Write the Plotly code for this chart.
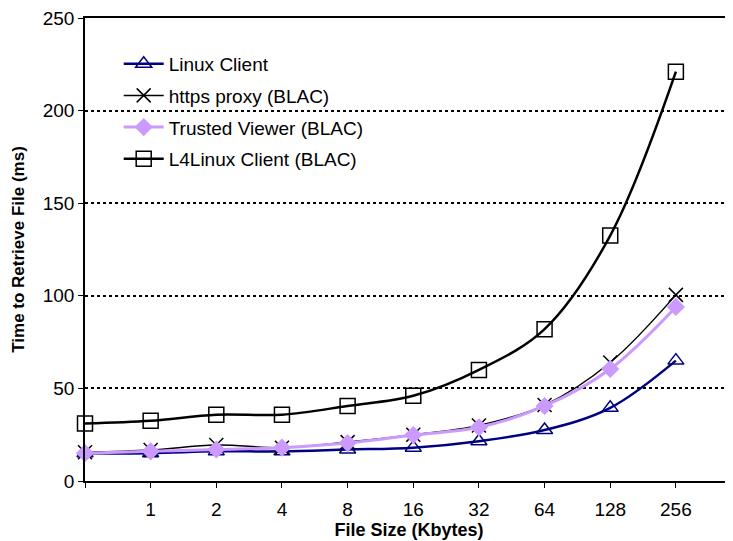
import plotly.graph_objects as go

categories = ["", "1", "2", "4", "8", "16", "32", "64", "128", "256"]
linux_client = [15, 15, 16, 16, 17, 18, 21.5, 27.5, 39.5, 65]
https_proxy = [15.5, 16.7, 19.4, 18, 21, 25, 30, 41, 64, 100.5]
trusted_viewer = [15, 16, 17, 18, 20.5, 24.8, 29, 40.5, 60.5, 94]
l4linux_client = [31, 32.5, 35.8, 35.8, 40.5, 46, 60, 82, 132.5, 221]

xs = list(range(len(categories)))
font = "Liberation Sans, Arial, sans-serif"

fig = go.Figure()
fig.add_trace(go.Scatter(x=xs, y=linux_client, name="Linux Client", mode="lines+markers",
                         legendgroup="a",
                         line=dict(color="#000080", width=2.5, shape="spline"),
                         marker=dict(symbol="triangle-up-open", size=14, color="#000080", line=dict(width=1.5)),
                         cliponaxis=False))
fig.add_trace(go.Scatter(x=xs, y=https_proxy, name="https proxy (BLAC)", mode="lines+markers",
                         legendgroup="b",
                         line=dict(color="black", width=1.5, shape="spline"),
                         marker=dict(symbol="x-thin-open", size=14, color="black", line=dict(width=1.5, color="black")),
                         cliponaxis=False))
fig.add_trace(go.Scatter(x=xs, y=trusted_viewer, name="Trusted Viewer (BLAC)", mode="lines+markers",
                         legendgroup="c",
                         line=dict(color="#CC99FF", width=3, shape="spline"),
                         marker=dict(symbol="diamond", size=14, color="#CC99FF"),
                         cliponaxis=False))
fig.add_trace(go.Scatter(x=xs, y=l4linux_client, name="L4Linux Client (BLAC)", mode="lines+markers",
                         legendgroup="d",
                         line=dict(color="black", width=2.5, shape="spline"),
                         marker=dict(symbol="square-open", size=15, color="black", line=dict(width=1.5)),
                         cliponaxis=False))

fig.update_layout(
    width=725, height=533,
    margin=dict(l=77, r=0, t=10, b=60),
    paper_bgcolor="white", plot_bgcolor="white",
    font=dict(family=font, size=19, color="black"),
    showlegend=True,
    legend=dict(x=0.052, y=0.942, xanchor="left", yanchor="top",
                bgcolor="rgba(0,0,0,0)", font=dict(size=19), tracegroupgap=4,
                itemwidth=40),
)
fig.update_xaxes(
    range=[0, 9.87], tickmode="array", tickvals=xs, ticktext=categories,
    showgrid=False, showline=True, linecolor="black", linewidth=1.5, mirror=True,
    ticks="outside", ticklen=5, tickcolor="black", zeroline=False,
    tickfont=dict(size=19), ticklabelstandoff=5, ticklabeloverflow="allow",
    title=dict(text="<b>File Size (Kbytes)</b>", font=dict(size=18), standoff=2),
)
fig.update_yaxes(
    range=[0, 250], tickvals=[0, 50, 100, 150, 200, 250],
    showgrid=True, gridcolor="black", griddash="dot", gridwidth=1.5,
    showline=True, linecolor="black", linewidth=1.5, zeroline=False,
    ticks="outside", ticklen=5, tickcolor="black",
    tickfont=dict(size=19), ticklabeloverflow="allow",
    title=dict(text="<b>Time to Retrieve File (ms)</b>", font=dict(size=17), standoff=14),
)
fig.write_html("out.html")
